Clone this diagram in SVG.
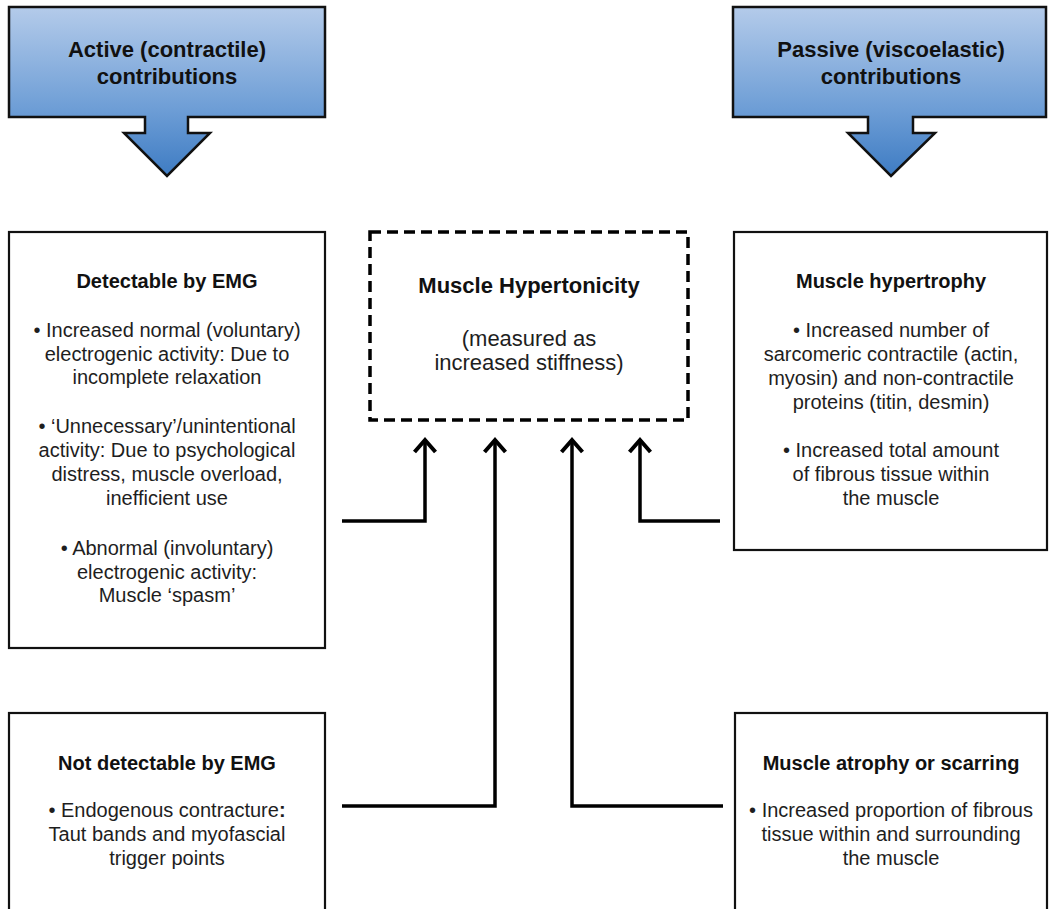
<svg xmlns="http://www.w3.org/2000/svg" width="1049" height="909" viewBox="0 0 1049 909">
<style>
text{font-family:"Liberation Sans",Arial,sans-serif;text-anchor:middle;fill:#1e1e1e}
.h{font-weight:bold;font-size:20px;fill:#111}
.t{font-size:20px}
.title{font-weight:bold;font-size:22px;fill:#111}
.big{font-size:22px}
.box{fill:#fff;stroke:#111;stroke-width:2.2}
.blk{stroke:#111;stroke-width:2.5}
.conn{fill:none;stroke:#000;stroke-width:3.5;stroke-linejoin:miter}
</style>
<defs>
<linearGradient id="g" x1="0" y1="7" x2="0" y2="176" gradientUnits="userSpaceOnUse">
<stop offset="0" stop-color="#b4cbea"/>
<stop offset="0.6" stop-color="#6e9ed6"/>
<stop offset="1" stop-color="#3e7cc3"/>
</linearGradient>
<marker id="ah" markerUnits="userSpaceOnUse" markerWidth="30" markerHeight="30" refX="14" refY="15" orient="auto" viewBox="0 0 30 30">
<polyline points="2,4.5 14,15 2,25.5" fill="none" stroke="#000" stroke-width="4" stroke-linejoin="miter"/>
</marker>
</defs>
<rect width="1049" height="909" fill="#fff"/>

<g id="active">
<path class="blk" fill="url(#g)" d="M9,7 H325 V117 H188 V133 H210 L167,176 L124,133 H145 V117 H9 Z"/>
<text class="title" x="167" y="57">Active (contractile)</text>
<text class="title" x="167" y="84">contributions</text>
</g>

<g id="passive">
<path class="blk" fill="url(#g)" d="M733,7 H1046 V117 H913 V133 H935 L891,176 L848,133 H868 V117 H733 Z"/>
<text class="title" x="891" y="57">Passive (viscoelastic)</text>
<text class="title" x="891" y="84">contributions</text>
</g>

<g id="hypertonicity">
<rect x="370" y="232" width="318" height="188" fill="#fff" stroke="#000" stroke-width="3.5" stroke-dasharray="11 6"/>
<text class="title" x="529" y="293">Muscle Hypertonicity</text>
<text class="big" x="529" y="346">(measured as</text>
<text class="big" x="529" y="370">increased stiffness)</text>
</g>

<g id="detectable">
<rect class="box" x="9" y="232" width="316" height="416"/>
<text class="h" x="167" y="288">Detectable by EMG</text>
<text class="t" x="167" y="337">• Increased normal (voluntary)</text>
<text class="t" x="167" y="360.5">electrogenic activity: Due to</text>
<text class="t" x="167" y="384">incomplete relaxation</text>
<text class="t" x="167" y="433">• ‘Unnecessary’/unintentional</text>
<text class="t" x="167" y="457">activity: Due to psychological</text>
<text class="t" x="167" y="481">distress, muscle overload,</text>
<text class="t" x="167" y="505">inefficient use</text>
<text class="t" x="167" y="555">• Abnormal (involuntary)</text>
<text class="t" x="167" y="578.5">electrogenic activity:</text>
<text class="t" x="167" y="602">Muscle ‘spasm’</text>
</g>

<g id="not-detectable">
<rect class="box" x="9" y="713" width="316" height="210"/>
<text class="h" x="167" y="770">Not detectable by EMG</text>
<text class="t" x="167" y="817">• Endogenous contracture<tspan font-weight="bold">:</tspan></text>
<text class="t" x="167" y="841">Taut bands and myofascial</text>
<text class="t" x="167" y="865">trigger points</text>
</g>

<g id="hypertrophy">
<rect class="box" x="734" y="232" width="313" height="318"/>
<text class="h" x="891" y="288">Muscle hypertrophy</text>
<text class="t" x="891" y="337">• Increased number of</text>
<text class="t" x="891" y="361">sarcomeric contractile (actin,</text>
<text class="t" x="891" y="385">myosin) and non-contractile</text>
<text class="t" x="891" y="409">proteins (titin, desmin)</text>
<text class="t" x="891" y="457">• Increased total amount</text>
<text class="t" x="891" y="481">of fibrous tissue within</text>
<text class="t" x="891" y="505">the muscle</text>
</g>

<g id="atrophy">
<rect class="box" x="735" y="713" width="312" height="210"/>
<text class="h" x="891" y="770">Muscle atrophy or scarring</text>
<text class="t" x="891" y="817">• Increased proportion of fibrous</text>
<text class="t" x="891" y="841">tissue within and surrounding</text>
<text class="t" x="891" y="865">the muscle</text>
</g>

<g id="connectors">
<path class="conn" d="M342,521 H425 V440" marker-end="url(#ah)"/>
<path class="conn" d="M342,806 H495 V440" marker-end="url(#ah)"/>
<path class="conn" d="M723,806 H572 V440" marker-end="url(#ah)"/>
<path class="conn" d="M720,521 H640 V440" marker-end="url(#ah)"/>
</g>
</svg>
